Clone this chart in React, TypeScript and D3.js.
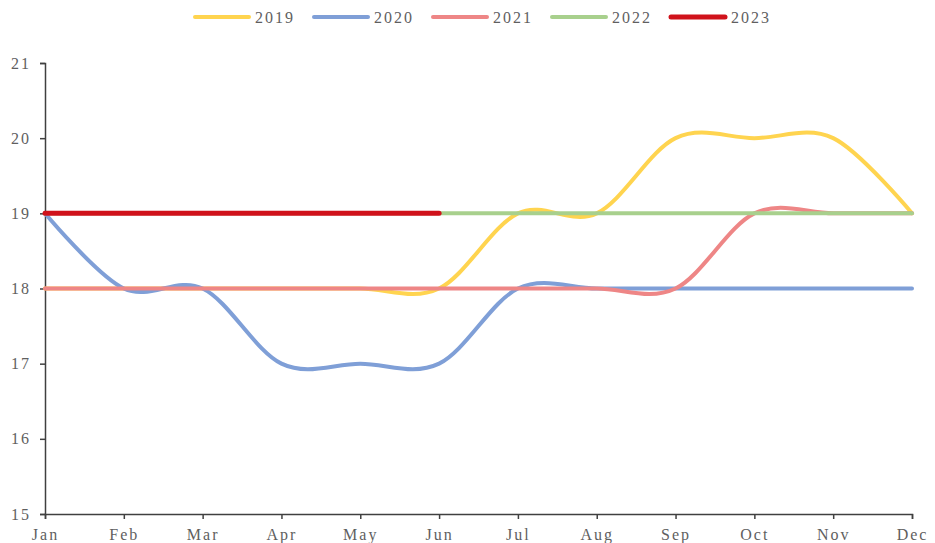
import * as d3 from 'd3'
import { useRef, useEffect } from 'react'

const W = 935, H = 543
const M = { top: 63, right: 23, bottom: 29, left: 45 }

const MONTHS = ['Jan', 'Feb', 'Mar', 'Apr', 'May', 'Jun', 'Jul', 'Aug', 'Sep', 'Oct', 'Nov', 'Dec']
const Y_TICKS = [15, 16, 17, 18, 19, 20, 21]

const S2019 = [18, 18, 18, 18, 18, 18, 19, 19, 20, 20, 20, 19]
const S2020 = [19, 18, 18, 17, 17, 17, 18, 18, 18, 18, 18, 18]
const S2021 = [18, 18, 18, 18, 18, 18, 18, 18, 18, 19, 19, 19]
const S2022 = [19, 19, 19, 19, 19, 19, 19, 19, 19, 19, 19, 19]
const S2023 = [19, 19, 19, 19, 19, 19, null, null, null, null, null, null]

const SERIES = [
  { name: '2019', values: S2019, color: '#FFD44F', width: 4 },
  { name: '2020', values: S2020, color: '#7F9FD7', width: 4 },
  { name: '2021', values: S2021, color: '#EE8686', width: 4 },
  { name: '2022', values: S2022, color: '#A8D08D', width: 4 },
  { name: '2023', values: S2023, color: '#D0121B', width: 5 },
]

const FONT = '"Liberation Serif", serif'

export default function App() {
  const svgRef = useRef<SVGSVGElement>(null)

  useEffect(() => {
    const svg = d3.select(svgRef.current)
    svg.selectAll('*').remove()

    const x = d3.scalePoint().domain(MONTHS).range([M.left, W - M.right])
    const y = d3.scaleLinear().domain([15, 21]).range([H - M.bottom, M.top])

    // axes
    const gx = svg.append('g').attr('transform', `translate(0,${y(15)})`)
      .call(d3.axisBottom(x).tickSize(5).tickPadding(10))
    const gy = svg.append('g').attr('transform', `translate(${M.left},0)`)
      .call(d3.axisLeft(y).tickValues(Y_TICKS).tickSize(5).tickPadding(9).tickFormat(d3.format('d')))
    ;[gx, gy].forEach((g) => {
      g.select('.domain').attr('stroke', '#404040').attr('stroke-width', 1.5)
      g.selectAll('.tick line').attr('stroke', '#404040').attr('stroke-width', 1.5)
      g.selectAll('.tick text').attr('fill', '#5f5f5f').attr('font-family', FONT)
        .attr('font-size', 16).attr('letter-spacing', 2)
    })

    // lines
    const line = d3.line<number | null>()
      .defined((d) => d != null)
      .x((_, i) => x(MONTHS[i])!)
      .y((d) => y(d as number))
      .curve(d3.curveCardinal.tension(0))

    SERIES.forEach((s) => {
      svg.append('path').datum(s.values).attr('fill', 'none')
        .attr('stroke', s.color).attr('stroke-width', s.width)
        .attr('stroke-linecap', 'round').attr('stroke-linejoin', 'round')
        .attr('d', line)
    })

    // legend
    const lg = svg.append('g')
    SERIES.forEach((s, i) => {
      const x0 = 195 + i * 119
      lg.append('line').attr('x1', x0).attr('x2', x0 + 54).attr('y1', 17).attr('y2', 17)
        .attr('stroke', s.color).attr('stroke-width', s.width).attr('stroke-linecap', 'round')
      lg.append('text').attr('x', x0 + 60).attr('y', 23).attr('fill', '#5f5f5f')
        .attr('font-family', FONT).attr('font-size', 16).attr('letter-spacing', 2)
        .text(s.name)
    })
  }, [])

  return (
    <svg ref={svgRef} width={W} height={H} viewBox={`0 0 ${W} ${H}`}
      style={{ position: 'absolute', left: 0, top: 0, background: '#fff' }} />
  )
}
